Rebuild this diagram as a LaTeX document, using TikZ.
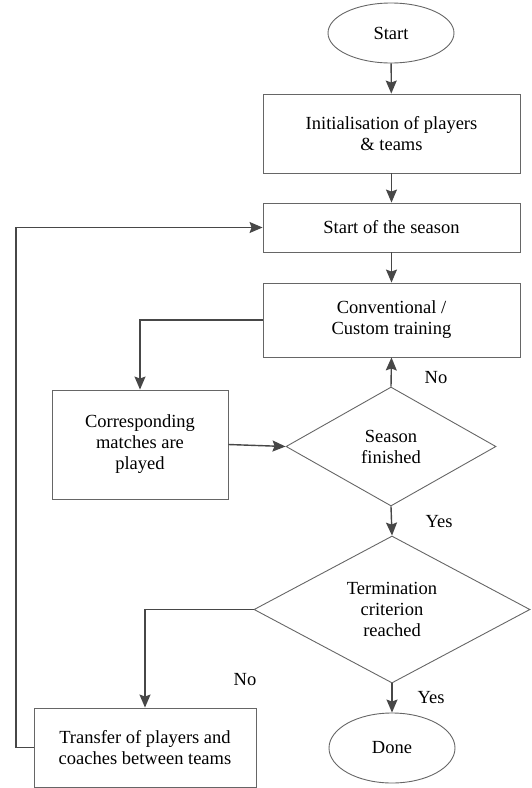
\documentclass[tikz,border=0pt]{standalone}
\usepackage{fontspec}
\setmainfont{LiberationSerif}[Extension=.ttf, UprightFont=*-Regular, BoldFont=*-Bold]
\usetikzlibrary{arrows.meta,shapes.geometric}
\begin{document}
\begin{tikzpicture}[x=1pt,y=-1pt,
  every node/.style={font=\fontsize{18.5}{21}\selectfont, align=center, text=black},
  boxnode/.style={draw=black!60, line width=0.9pt, rectangle, inner sep=0pt},
  ovalnode/.style={draw=black!60, line width=0.9pt, ellipse, inner sep=0pt},
  decnode/.style={draw=black!60, line width=0.9pt, diamond, inner sep=0pt},
  conn/.style={draw=black!72, line width=1.4pt, -{Stealth[length=13pt,width=11pt,inset=2pt]}},
  lbl/.style={inner sep=0pt}
]
\useasboundingbox (0,0) rectangle (531,788);
\node[ovalnode, minimum width=126pt, minimum height=60pt] (start) at (391,33) {Start};
\node[boxnode, minimum width=257pt, minimum height=79pt] (init) at (391.5,133.5) {Initialisation of players\\\& teams};
\node[boxnode, minimum width=257pt, minimum height=49pt] (season) at (391.5,227.5) {Start of the season};
\node[boxnode, minimum width=257pt, minimum height=74pt] (train) at (391.5,320) {Conventional /\\Custom training};
\node[boxnode, minimum width=176pt, minimum height=109pt] (match) at (140,444.5) {Corresponding\\matches are\\played};
\node[decnode, minimum width=210pt, minimum height=119pt] (fin) at (391,446.5) {Season\\finished};
\node[decnode, minimum width=276pt, minimum height=147pt] (term) at (392,609.5) {Termination\\criterion\\reached};
\node[ovalnode, minimum width=126pt, minimum height=70pt] (done) at (392,748) {Done};
\node[boxnode, minimum width=222pt, minimum height=79pt] (transfer) at (145,747.5) {Transfer of players and\\coaches between teams};

\draw[conn] (start) -- (init);
\draw[conn] (init) -- (season);
\draw[conn] (season) -- (train);
\draw[conn] (train.west) -| (match.north);
\draw[conn] (match.east) -- (fin.west);
\draw[conn] (fin.north) -- (train.south);
\draw[conn] (fin.south) -- (term.north);
\draw[conn] (term.south) -- (done.north);
\draw[conn] (term.west) -| (transfer.north);
\coordinate (c1) at (16,747.5);
\coordinate (c2) at (16,227.5);
\draw[conn] (transfer.west) -- (c1) -- (c2) -- (season.west);

\node[lbl] (no1) at (436,378) {No};
\node[lbl] (yes1) at (439,522) {Yes};
\node[lbl] (no2) at (245,680) {No};
\node[lbl] (yes2) at (431,698) {Yes};
\end{tikzpicture}
\end{document}
